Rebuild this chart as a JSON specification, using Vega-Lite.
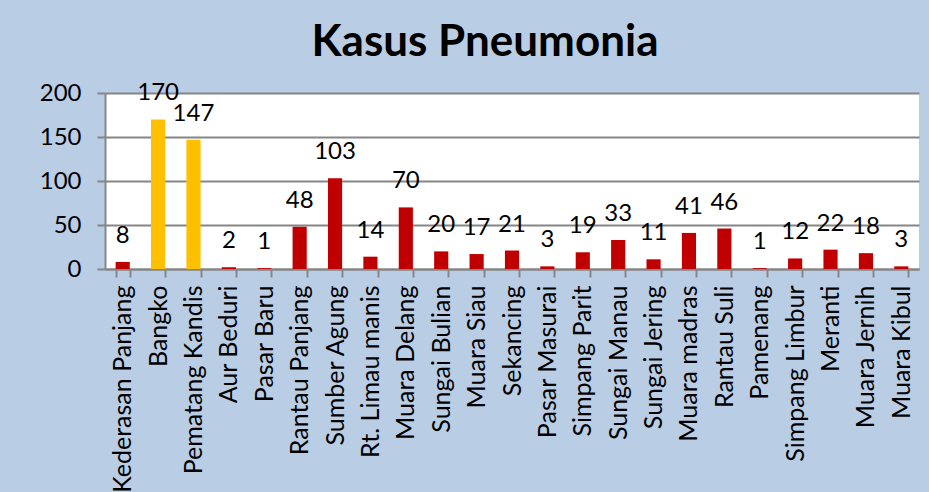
{
  "$schema": "https://vega.github.io/schema/vega-lite/v6.json",
  "autosize": {"type": "none"},
  "width": 814,
  "height": 176,
  "padding": {"left": 105, "top": 93, "right": 10, "bottom": 223},
  "background": "#b9cde5",
  "title": {
    "text": "Kasus Pneumonia",
    "font": "Lato",
    "fontSize": 44,
    "fontWeight": "bold",
    "color": "#000000",
    "anchor": "middle",
    "baseline": "alphabetic",
    "offset": -19,
    "dx": -27
  },
  "config": {
    "view": {"fill": "#ffffff", "stroke": null},
    "font": "Lato"
  },
  "data": {
    "values": [
      {"desa": "Kederasan Panjang", "kasus": 8, "grup": "lain"},
      {"desa": "Bangko", "kasus": 170, "grup": "tinggi"},
      {"desa": "Pematang Kandis", "kasus": 147, "grup": "tinggi"},
      {"desa": "Aur Beduri", "kasus": 2, "grup": "lain"},
      {"desa": "Pasar Baru", "kasus": 1, "grup": "lain"},
      {"desa": "Rantau Panjang", "kasus": 48, "grup": "lain"},
      {"desa": "Sumber Agung", "kasus": 103, "grup": "lain"},
      {"desa": "Rt. Limau manis", "kasus": 14, "grup": "lain"},
      {"desa": "Muara Delang", "kasus": 70, "grup": "lain"},
      {"desa": "Sungai Bulian", "kasus": 20, "grup": "lain"},
      {"desa": "Muara Siau", "kasus": 17, "grup": "lain"},
      {"desa": "Sekancing", "kasus": 21, "grup": "lain"},
      {"desa": "Pasar Masurai", "kasus": 3, "grup": "lain"},
      {"desa": "Simpang Parit", "kasus": 19, "grup": "lain"},
      {"desa": "Sungai Manau", "kasus": 33, "grup": "lain"},
      {"desa": "Sungai Jering", "kasus": 11, "grup": "lain"},
      {"desa": "Muara madras", "kasus": 41, "grup": "lain"},
      {"desa": "Rantau Suli", "kasus": 46, "grup": "lain"},
      {"desa": "Pamenang", "kasus": 1, "grup": "lain"},
      {"desa": "Simpang Limbur", "kasus": 12, "grup": "lain"},
      {"desa": "Meranti", "kasus": 22, "grup": "lain"},
      {"desa": "Muara Jernih", "kasus": 18, "grup": "lain"},
      {"desa": "Muara Kibul", "kasus": 3, "grup": "lain"}
    ]
  },
  "encoding": {
    "x": {
      "field": "desa",
      "type": "nominal",
      "sort": null,
      "scale": {"paddingInner": 0.6, "paddingOuter": 0.3},
      "axis": {
        "title": null,
        "labelAngle": -90,
        "labelFont": "Lato",
        "labelFontSize": 25,
        "labelColor": "#000000",
        "labelPadding": 8,
        "labelLimit": 400,
        "tickBand": "extent",
        "tickSize": 8,
        "tickColor": "#868686",
        "tickWidth": 2,
        "domainColor": "#868686",
        "domainWidth": 2,
        "labelOverlap": false
      }
    },
    "y": {
      "field": "kasus",
      "type": "quantitative",
      "scale": {"domain": [0, 200]},
      "axis": {
        "title": null,
        "values": [0, 50, 100, 150, 200],
        "labelFont": "Lato",
        "labelFontSize": 24,
        "labelColor": "#000000",
        "labelPadding": 16,
        "tickSize": 8,
        "tickColor": "#868686",
        "tickWidth": 2,
        "domainColor": "#868686",
        "domainWidth": 2,
        "gridColor": "#868686",
        "gridWidth": 2
      }
    }
  },
  "layer": [
    {
      "mark": {"type": "bar"},
      "encoding": {
        "color": {
          "field": "grup",
          "type": "nominal",
          "scale": {"domain": ["tinggi", "lain"], "range": ["#ffc000", "#c00000"]},
          "legend": null
        }
      }
    },
    {
      "mark": {"type": "text", "baseline": "alphabetic", "dy": -19, "fontSize": 24, "font": "Lato", "color": "#000000"},
      "encoding": {
        "text": {"field": "kasus", "type": "quantitative"}
      }
    }
  ]
}
